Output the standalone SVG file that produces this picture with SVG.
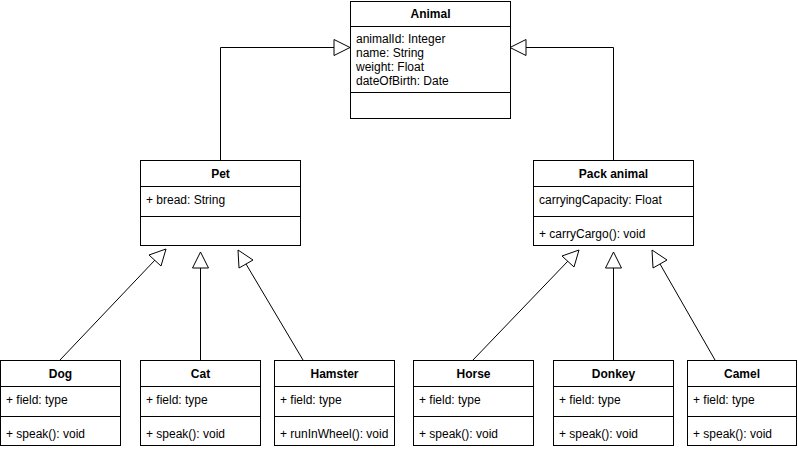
<svg xmlns="http://www.w3.org/2000/svg" width="798" height="450" viewBox="0 0 798 450">
<style>
.box{fill:#fff;stroke:#000;stroke-width:1}
.sep{stroke:#000;stroke-width:1;fill:none}
.t{font-family:"Liberation Sans",Arial,sans-serif;font-size:12px;fill:#000}
.h{font-family:"Liberation Sans",Arial,sans-serif;font-size:12px;font-weight:bold;fill:#000;text-anchor:middle}
.edge{stroke:#000;stroke-width:1;fill:none}
.tri{fill:#fff;stroke:#000;stroke-width:1}
</style>
<rect width="798" height="450" fill="#fff"/>
<g id="connectors">
  <polyline class="edge" points="220.5,160 220.5,47.5 334,47.5"/>
  <polygon class="tri" points="350,47.5 334,39.5 334,55.5"/>
  <polyline class="edge" points="613.5,160 613.5,47.5 526,47.5"/>
  <polygon class="tri" points="510,47.5 526,39.5 526,55.5"/>
  <line class="edge" x1="60" y1="360" x2="155" y2="260"/>
  <polygon class="tri" points="166,249 149,255 161,266"/>
  <line class="edge" x1="200.5" y1="360" x2="200.5" y2="268"/>
  <polygon class="tri" points="200.5,252 192.5,268 208.5,268"/>
  <line class="edge" x1="303" y1="360" x2="246" y2="264"/>
  <polygon class="tri" points="238,250 253,260 239,268"/>
  <line class="edge" x1="473" y1="360" x2="568" y2="261"/>
  <polygon class="tri" points="579,250 562,256 574,267"/>
  <line class="edge" x1="613.5" y1="360" x2="613.5" y2="268"/>
  <polygon class="tri" points="613.5,252 605.5,268 621.5,268"/>
  <line class="edge" x1="715" y1="360" x2="660" y2="264"/>
  <polygon class="tri" points="652,250 667,260 653,268"/>
</g>
<g id="animal">
  <rect class="box" x="350.5" y="1.5" width="160" height="117"/>
  <line class="sep" x1="350.5" y1="26.5" x2="510.5" y2="26.5"/>
  <line class="sep" x1="350.5" y1="92.5" x2="510.5" y2="92.5"/>
  <text class="h" x="430.5" y="18">Animal</text>
  <text class="t" x="356" y="43">animalId: Integer</text>
  <text class="t" x="356" y="57">name: String</text>
  <text class="t" x="356" y="71">weight: Float</text>
  <text class="t" x="356" y="85">dateOfBirth: Date</text>
</g>
<g id="pet">
  <rect class="box" x="140.5" y="160.5" width="160" height="85"/>
  <line class="sep" x1="140.5" y1="186.5" x2="300.5" y2="186.5"/>
  <line class="sep" x1="140.5" y1="216.5" x2="300.5" y2="216.5"/>
  <text class="h" x="220.5" y="178">Pet</text>
  <text class="t" x="146" y="204">+ bread: String</text>
</g>
<g id="pack-animal">
  <rect class="box" x="533.5" y="160.5" width="160" height="85"/>
  <line class="sep" x1="533.5" y1="186.5" x2="693.5" y2="186.5"/>
  <line class="sep" x1="533.5" y1="216.5" x2="693.5" y2="216.5"/>
  <text class="h" x="613.5" y="178">Pack animal</text>
  <text class="t" x="539" y="204">carryingCapacity: Float</text>
  <text class="t" x="539" y="238">+ carryCargo(): void</text>
</g>
<g id="dog">
  <rect class="box" x="0.5" y="360.5" width="120" height="85"/>
  <line class="sep" x1="0.5" y1="386.5" x2="120.5" y2="386.5"/>
  <line class="sep" x1="0.5" y1="416.5" x2="120.5" y2="416.5"/>
  <text class="h" x="60.5" y="378">Dog</text>
  <text class="t" x="6" y="404">+ field: type</text>
  <text class="t" x="6" y="438">+ speak(): void</text>
</g>
<g id="cat">
  <rect class="box" x="140.5" y="360.5" width="120" height="85"/>
  <line class="sep" x1="140.5" y1="386.5" x2="260.5" y2="386.5"/>
  <line class="sep" x1="140.5" y1="416.5" x2="260.5" y2="416.5"/>
  <text class="h" x="200.5" y="378">Cat</text>
  <text class="t" x="146" y="404">+ field: type</text>
  <text class="t" x="146" y="438">+ speak(): void</text>
</g>
<g id="hamster">
  <rect class="box" x="274.5" y="360.5" width="120" height="85"/>
  <line class="sep" x1="274.5" y1="386.5" x2="394.5" y2="386.5"/>
  <line class="sep" x1="274.5" y1="416.5" x2="394.5" y2="416.5"/>
  <text class="h" x="334.5" y="378">Hamster</text>
  <text class="t" x="280" y="404">+ field: type</text>
  <text class="t" x="280" y="438">+ runInWheel(): void</text>
</g>
<g id="horse">
  <rect class="box" x="413.5" y="360.5" width="120" height="85"/>
  <line class="sep" x1="413.5" y1="386.5" x2="533.5" y2="386.5"/>
  <line class="sep" x1="413.5" y1="416.5" x2="533.5" y2="416.5"/>
  <text class="h" x="473.5" y="378">Horse</text>
  <text class="t" x="419" y="404">+ field: type</text>
  <text class="t" x="419" y="438">+ speak(): void</text>
</g>
<g id="donkey">
  <rect class="box" x="553.5" y="360.5" width="120" height="85"/>
  <line class="sep" x1="553.5" y1="386.5" x2="673.5" y2="386.5"/>
  <line class="sep" x1="553.5" y1="416.5" x2="673.5" y2="416.5"/>
  <text class="h" x="613.5" y="378">Donkey</text>
  <text class="t" x="559" y="404">+ field: type</text>
  <text class="t" x="559" y="438">+ speak(): void</text>
</g>
<g id="camel">
  <rect class="box" x="687.5" y="360.5" width="109" height="85"/>
  <line class="sep" x1="687.5" y1="386.5" x2="796.5" y2="386.5"/>
  <line class="sep" x1="687.5" y1="416.5" x2="796.5" y2="416.5"/>
  <text class="h" x="742" y="378">Camel</text>
  <text class="t" x="693" y="404">+ field: type</text>
  <text class="t" x="693" y="438">+ speak(): void</text>
</g>
</svg>
